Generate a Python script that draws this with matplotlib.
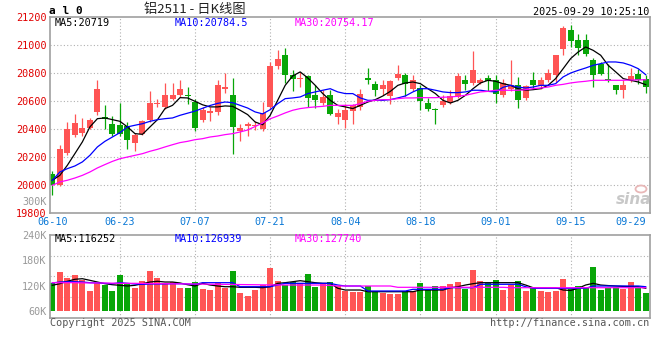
import matplotlib
matplotlib.use("Agg")
import matplotlib.pyplot as plt
import matplotlib.patches as mpatches
import numpy as np
import pandas as pd

# trading days shown on the chart (no exchange holidays in this window)
dates = pd.bdate_range("2025-06-10", "2025-09-29").strftime("%m-%d").tolist()
date_ticks = ["06-10", "06-23", "07-07", "07-21", "08-04", "08-18", "09-01", "09-15", "09-29"]

opens = [20083, 20005, 20233, 20362, 20376, 20412, 20524, 20488, 20440, 20433,
         20421, 20305, 20369, 20469, 20579, 20560, 20614, 20643, 20648, 20595,
         20464, 20519, 20524, 20690, 20648, 20386, 20424, 20424, 20400, 20560,
         20850, 20929, 20790, 20762, 20779, 20643, 20588, 20643, 20486, 20464,
         20529, 20560, 20769, 20726, 20686, 20638, 20769, 20790, 20690, 20695,
         20588, 20548, 20571, 20595, 20631, 20755, 20733, 20733, 20769, 20755,
         20648, 20686, 20719, 20624, 20755, 20707, 20750, 20786, 20976, 21112,
         21040, 21040, 20898, 20869, 20762, 20714, 20683, 20750, 20798, 20762]
highs = [20102, 20290, 20452, 20512, 20481, 20481, 20755, 20571, 20495, 20590,
         20452, 20376, 20469, 20671, 20619, 20733, 20733, 20750, 20702, 20619,
         20560, 20560, 20755, 20805, 20767, 20440, 20452, 20457, 20595, 20881,
         20964, 20983, 20826, 20810, 20790, 20714, 20679, 20679, 20548, 20583,
         20583, 20690, 20840, 20743, 20750, 20750, 20862, 20802, 20790, 20714,
         20624, 20552, 20648, 20679, 20802, 20786, 20957, 20769, 20790, 20790,
         20762, 20893, 20774, 20719, 20810, 20774, 20833, 20929, 21138, 21143,
         21079, 21079, 20910, 20881, 20869, 20719, 20750, 20840, 20833, 20786]
lows = [19929, 19993, 20219, 20345, 20352, 20405, 20505, 20400, 20352, 20352,
        20257, 20243, 20357, 20452, 20560, 20548, 20607, 20631, 20583, 20386,
        20452, 20457, 20505, 20662, 20221, 20314, 20350, 20393, 20386, 20543,
        20833, 20733, 20671, 20702, 20560, 20552, 20571, 20500, 20440, 20410,
        20436, 20536, 20726, 20638, 20643, 20583, 20750, 20638, 20671, 20536,
        20529, 20436, 20560, 20583, 20624, 20683, 20714, 20726, 20674, 20588,
        20631, 20671, 20552, 20607, 20686, 20690, 20738, 20738, 20933, 20988,
        20933, 20924, 20702, 20786, 20738, 20655, 20626, 20738, 20726, 20662]
closes = [20000, 20262, 20405, 20448, 20412, 20469, 20690, 20471, 20369, 20369,
          20321, 20362, 20457, 20590, 20590, 20643, 20643, 20690, 20638, 20412,
          20536, 20529, 20714, 20702, 20417, 20410, 20440, 20433, 20519, 20850,
          20905, 20790, 20762, 20769, 20624, 20607, 20631, 20512, 20519, 20536,
          20571, 20655, 20750, 20683, 20714, 20743, 20798, 20721, 20755, 20600,
          20548, 20536, 20600, 20638, 20779, 20721, 20821, 20755, 20745, 20650,
          20731, 20719, 20607, 20707, 20719, 20755, 20802, 20929, 21126, 21029,
          20981, 20940, 20786, 20798, 20755, 20683, 20714, 20779, 20755, 20702]

ma5 = [20036, 20071, 20143, 20226, 20310, 20417, 20476, 20481, 20469, 20457,
       20417, 20369, 20364, 20417, 20469, 20548, 20571, 20626, 20624, 20600,
       20575, 20560, 20560, 20567, 20564, 20536, 20505, 20452, 20433, 20500,
       20607, 20714, 20781, 20810, 20767, 20714, 20655, 20607, 20571, 20560,
       20548, 20571, 20595, 20612, 20638, 20671, 20714, 20731, 20738, 20726,
       20690, 20655, 20607, 20588, 20607, 20643, 20690, 20731, 20750, 20743,
       20726, 20714, 20690, 20679, 20683, 20690, 20714, 20762, 20833, 20905,
       20952, 20988, 20964, 20929, 20857, 20810, 20762, 20750, 20738, 20719]
ma10 = [20035, 20095, 20119, 20138, 20167, 20214, 20274, 20314, 20345, 20376,
        20417, 20429, 20440, 20457, 20469, 20476, 20481, 20500, 20515, 20530,
        20550, 20570, 20585, 20595, 20590, 20571, 20552, 20524, 20510, 20540,
        20583, 20619, 20624, 20631, 20655, 20667, 20679, 20690, 20667, 20655,
        20655, 20624, 20607, 20607, 20607, 20612, 20624, 20638, 20667, 20690,
        20690, 20679, 20667, 20662, 20662, 20667, 20679, 20679, 20671, 20667,
        20700, 20714, 20702, 20695, 20702, 20714, 20714, 20726, 20774, 20802,
        20821, 20838, 20857, 20869, 20881, 20881, 20874, 20857, 20833, 20790]
ma30 = [20000, 20024, 20036, 20052, 20071, 20095, 20124, 20148, 20171, 20190,
        20202, 20214, 20226, 20243, 20257, 20274, 20290, 20305, 20314, 20326,
        20333, 20345, 20352, 20362, 20369, 20381, 20395, 20420, 20445, 20475,
        20495, 20517, 20536, 20548, 20555, 20560, 20564, 20571, 20571, 20571,
        20571, 20583, 20600, 20607, 20612, 20612, 20619, 20624, 20624, 20626,
        20626, 20626, 20629, 20631, 20636, 20643, 20655, 20667, 20671, 20679,
        20679, 20679, 20679, 20683, 20690, 20695, 20702, 20714, 20721, 20731,
        20738, 20743, 20750, 20750, 20750, 20750, 20750, 20752, 20753, 20754]

volume = [126100, 152000, 138600, 145600, 133800, 107200, 126100, 120600, 107200, 144200,
          124400, 115000, 130800, 154400, 137800, 126100, 128400, 115000, 115000, 128400,
          111900, 109500, 126800, 115000, 154400, 103200, 95400, 109500, 121300, 162100,
          130800, 121300, 129100, 126800, 147300, 117300, 123000, 129100, 119000, 107200,
          105500, 104800, 119000, 107200, 103200, 100100, 100100, 107200, 107200, 126800,
          109500, 119000, 119000, 123700, 129100, 111200, 156700, 130800, 125300, 133100,
          109500, 121300, 130800, 107200, 117300, 107200, 105500, 107200, 135500, 111200,
          119000, 113600, 164500, 109500, 115000, 117300, 111900, 129100, 113600, 103200]
vol_ma5 = [120600, 124400, 130100, 134800, 136200, 132400, 128400, 124400, 122000, 120600,
           119000, 120600, 124400, 128400, 130100, 128400, 128400, 126100, 122000, 119000,
           125300, 121300, 119000, 117300, 117300, 115900, 115900, 115900, 115000, 117300,
           125300, 126800, 129100, 131500, 129100, 126800, 125300, 125300, 113600, 109500,
           109500, 109500, 105500, 105500, 105500, 105500, 105500, 105500, 105500, 109500,
           109500, 109500, 109500, 115000, 117300, 121300, 124400, 126800, 126800, 126800,
           126800, 126800, 126800, 121300, 115000, 115000, 115000, 115000, 109500, 108500,
           113600, 121300, 125300, 121300, 120000, 119000, 118000, 117300, 117300, 113600]
vol_ma10 = [126100, 128400, 129100, 129100, 128400, 126800, 126100, 125300, 124400, 126800,
            125300, 123700, 122700, 123700, 123700, 123700, 124400, 124400, 123700, 122700,
            126800, 126800, 126800, 126800, 126800, 117300, 117300, 117300, 117300, 117300,
            121300, 125300, 125300, 125300, 125300, 125300, 125300, 125300, 121300, 119000,
            119000, 119000, 107200, 107200, 107200, 107200, 107200, 107200, 111200, 111200,
            111200, 111200, 111200, 115000, 115000, 115000, 115000, 123000, 123000, 123000,
            123000, 123000, 123000, 117300, 113600, 113600, 113600, 113600, 113600, 113600,
            113600, 113600, 119000, 119000, 119000, 119000, 119000, 119000, 119000, 117300]
vol_ma30 = [126800, 126800, 126800, 126800, 126400, 126100, 126100, 126100, 125700, 125300,
            125300, 125300, 125000, 124800, 124600, 124400, 124200, 124000, 123900, 123700,
            123400, 123200, 123000, 122800, 122600, 122400, 122200, 122000, 121800, 121600,
            121500, 121400, 121300, 121300, 121300, 121300, 121200, 120500, 119000, 119000,
            119000, 119000, 119000, 119000, 119000, 119000, 115900, 115900, 115900, 115900,
            115900, 115900, 115900, 115900, 115900, 115900, 115900, 115900, 115900, 115900,
            115900, 115000, 115000, 115000, 115000, 115000, 115000, 115000, 115000, 115000,
            115000, 115000, 115000, 115000, 115000, 115000, 115000, 115000, 115000, 115000]

price_ticks = [19800, 20000, 20200, 20400, 20600, 20800, 21000, 21200]
vol_ticks = [60000, 120000, 180000, 240000]
price_ma_text = ["MA5:20719", "MA10:20784.5", "MA30:20754.17"]
vol_ma_text = ["MA5:116252", "MA10:126939", "MA30:127740"]

RED, GREEN = "#ff5454", "#08a608"
MA_COLORS = ["black", "#0000ff", "#ff00ff"]
GRID = dict(color="#b0b0b0", linestyle=(0, (1, 2)), linewidth=0.8)
MONO = "DejaVu Sans Mono"
FS = 7.3

W, H = 660, 360
fig = plt.figure(figsize=(W / 100, H / 100), dpi=100)
fig.patch.set_facecolor("white")


def box(left, top, right, bottom):
    return [left / W, 1 - bottom / H, (right - left) / W, (bottom - top) / H]


ax = fig.add_axes(box(50, 17.3, 649.5, 213.3))
axv = fig.add_axes(box(50, 234.7, 649.5, 318))

x = np.arange(len(dates))
o, h, l, c = map(np.array, (opens, highs, lows, closes))
colors = np.where(c >= o, RED, GREEN)

# candles
ax.vlines(x, l, h, colors=colors, linewidth=0.9, zorder=2)
ax.bar(x, np.maximum(np.abs(c - o), 6), bottom=np.minimum(o, c), width=0.8,
       color=colors, linewidth=0, zorder=2)
for ma, col in zip((ma5, ma10, ma30), MA_COLORS):
    ax.plot(x, ma, color=col, linewidth=0.9, zorder=3)

ax.set_ylim(19800, 21200)
ax.set_yticks(price_ticks)
ax.set_yticklabels([str(t) for t in price_ticks], color="#e00000", family=MONO, fontsize=FS)
tick_pos = [dates.index(d) for d in date_ticks]
ax.set_xticks(tick_pos)
ax.set_xticklabels(date_ticks, color="#0a78d6", family=MONO, fontsize=FS)
ax.get_xticklabels()[-1].set_horizontalalignment("right")
ax.tick_params(length=0, pad=2.5)
for t in price_ticks[1:-1]:
    ax.axhline(t, zorder=1, **GRID)

# volume
axv.bar(x, np.array(volume) - vol_ticks[0], bottom=vol_ticks[0], width=0.8,
        color=colors, linewidth=0, zorder=2)
for ma, col in zip((vol_ma5, vol_ma10, vol_ma30), MA_COLORS):
    axv.plot(x, ma, color=col, linewidth=0.9, zorder=3)
vlo, vhi = 43500, 240000
axv.set_ylim(vlo, vhi)
axv.set_yticks(vol_ticks)
axv.set_yticklabels([f"{t // 1000}K" for t in vol_ticks], color="#999999", family=MONO, fontsize=FS)
axv.set_xticks([])
axv.tick_params(length=0, pad=2.5)
for f in (0.25, 0.5, 0.75):
    axv.axhline(vlo + f * (vhi - vlo), zorder=1, **GRID)

for a in (ax, axv):
    a.set_xlim(-0.31, 79.5)
    for p in tick_pos[1:-1]:
        a.axvline(p, zorder=1, **GRID)
    for s in a.spines.values():
        s.set_color("#a0a0a0")
        s.set_linewidth(1.2)

# header and labels
fig.text(49 / W, 1 - 11.5 / H, "a l 0", ha="left", va="center", family=MONO,
         fontsize=8, fontweight="bold")
fig.text(195 / W, 1 - 10 / H, "铝2511 - 日K线图", ha="center", va="center",
         family=["Noto Sans CJK SC", "DejaVu Sans"], fontsize=9.5, color="#222222")
fig.text(649 / W, 1 - 11.7 / H, "2025-09-29 10:25:10", ha="right", va="center",
         family=MONO, fontsize=FS)
for txt, xp, col in zip(price_ma_text, (55, 175, 295), MA_COLORS):
    fig.text(xp / W, 1 - 23.5 / H, txt, ha="left", va="center", family=MONO, fontsize=FS, color=col)
for txt, xp, col in zip(vol_ma_text, (55, 175, 295), MA_COLORS):
    fig.text(xp / W, 1 - 238.5 / H, txt, ha="left", va="center", family=MONO, fontsize=FS, color=col)
fig.text(46.5 / W, 1 - 201.7 / H, "300K", ha="right", va="center", family=MONO,
         fontsize=FS, color="#999999")
fig.text(50 / W, 1 - 323.5 / H, "Copyright 2025 SINA.COM", ha="left", va="center",
         family=MONO, fontsize=FS, color="#555555")
fig.text(649 / W, 1 - 323.5 / H, "http://finance.sina.com.cn", ha="right", va="center",
         family=MONO, fontsize=FS, color="#555555")

# sina watermark
fig.text(634 / W, 1 - 200 / H, "sina", ha="center", va="center", fontsize=11,
         style="italic", fontweight="bold", color="#c8c8c8")
fig.patches.append(mpatches.Ellipse((641 / W, 1 - 189 / H), 11 / W, 7 / H,
                                    transform=fig.transFigure, fill=False,
                                    edgecolor="#e8b8b8", linewidth=1.3))

fig.savefig("out.png", dpi=100)
